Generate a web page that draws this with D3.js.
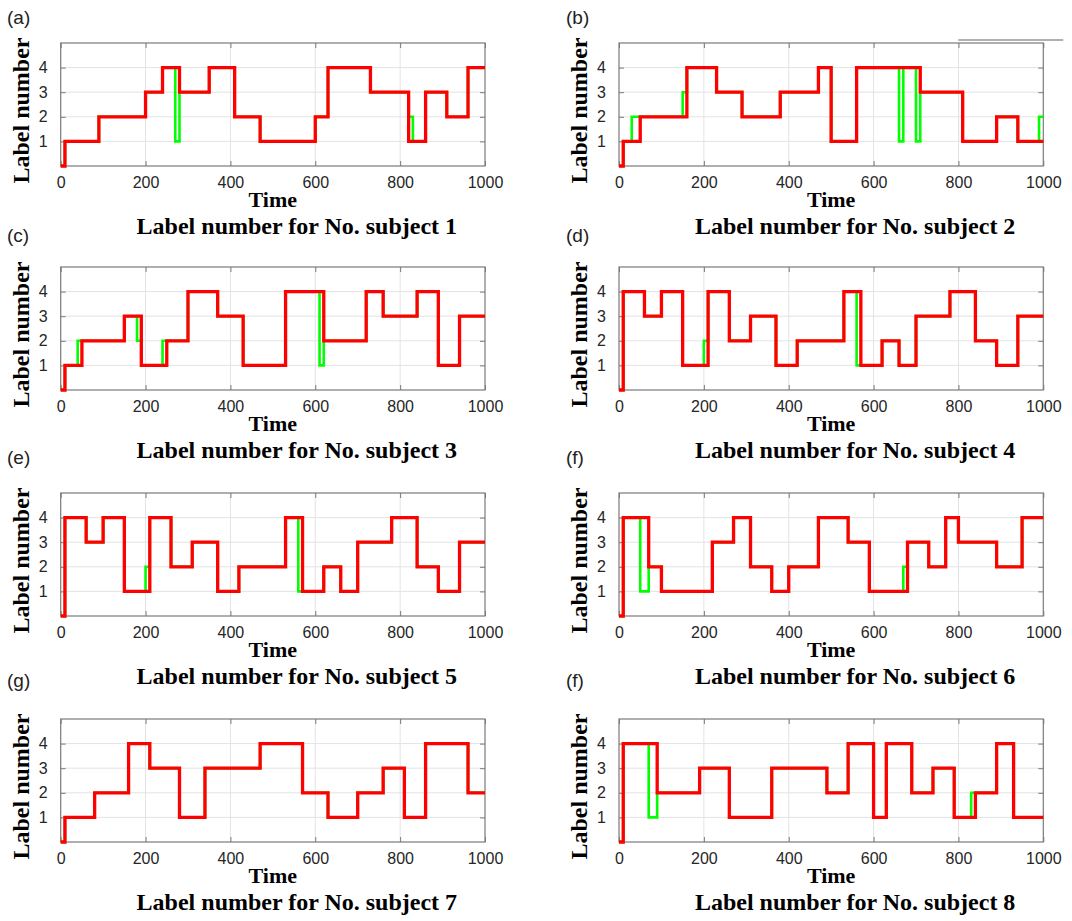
<!DOCTYPE html>
<html>
<head>
	<meta charset="utf-8">
	<script src="https://d3js.org/d3.v7.min.js"></script>
	<title>Label number per subject</title>
	<style>
		body { margin: 0; background: #fff; }
	</style>
</head>
<body>
	<div id="chart"></div>

	<script type="text/javascript">

		// panel letters as printed (the last one repeats "(f)")
		var panelLetters = ["(a)", "(b)", "(c)", "(d)", "(e)", "(f)", "(g)", "(f)"];
		var subjectNumbers = [1, 2, 3, 4, 5, 6, 7, 8];
		var xTickValues = [0, 200, 400, 600, 800, 1000];
		var yTickValues = [1, 2, 3, 4];
		var xDomain = [0, 1000];
		var yDomain = [0, 5];

		// [time, label] change points, each label holds until the next point (or 1000)
		var red1 = [[0,0],[10,1],[90,2],[200,3],[240,4],[280,3],[350,4],[410,2],[470,1],[600,2],[630,4],[730,3],[820,1],[860,3],[910,2],[960,4]];
		var green1 = [[0,0],[10,1],[90,2],[200,3],[240,4],[270,1],[280,3],[350,4],[410,2],[470,1],[600,2],[630,4],[730,3],[820,2],[830,1],[860,3],[910,2],[960,4]];

		var red2 = [[0,0],[10,1],[50,2],[160,4],[230,3],[290,2],[380,3],[470,4],[500,1],[560,4],[710,3],[810,1],[890,2],[940,1]];
		var green2 = [[0,0],[10,1],[30,2],[150,3],[160,4],[230,3],[290,2],[380,3],[470,4],[500,1],[560,4],[660,1],[670,4],[700,1],[710,3],[810,1],[890,2],[940,1],[990,2]];

		var red3 = [[0,0],[10,1],[50,2],[150,3],[190,1],[250,2],[300,4],[370,3],[430,1],[530,4],[620,2],[720,4],[760,3],[840,4],[890,1],[940,3]];
		var green3 = [[0,0],[10,1],[40,2],[150,3],[180,2],[190,1],[240,2],[300,4],[370,3],[430,1],[530,4],[610,1],[620,2],[720,4],[760,3],[840,4],[890,1],[940,3]];

		var red4 = [[0,0],[10,4],[60,3],[100,4],[150,1],[210,4],[260,2],[310,3],[370,1],[420,2],[530,4],[570,1],[620,2],[660,1],[700,3],[780,4],[840,2],[890,1],[940,3]];
		var green4 = [[0,0],[10,4],[60,3],[100,4],[150,1],[200,2],[210,4],[260,2],[310,3],[370,1],[420,2],[530,4],[560,1],[620,2],[660,1],[700,3],[780,4],[840,2],[890,1],[940,3]];

		var red5 = [[0,0],[10,4],[60,3],[100,4],[150,1],[210,4],[260,2],[310,3],[370,1],[420,2],[530,4],[570,1],[620,2],[660,1],[700,3],[780,4],[840,2],[890,1],[940,3]];
		var green5 = [[0,0],[10,4],[60,3],[100,4],[150,1],[200,2],[210,4],[260,2],[310,3],[370,1],[420,2],[530,4],[560,1],[620,2],[660,1],[700,3],[780,4],[840,2],[890,1],[940,3]];

		var red6 = [[0,0],[10,4],[70,2],[100,1],[220,3],[270,4],[310,2],[360,1],[400,2],[470,4],[540,3],[590,1],[680,3],[730,2],[770,4],[800,3],[890,2],[950,4]];
		var green6 = [[0,0],[10,4],[50,1],[70,2],[100,1],[220,3],[270,4],[310,2],[360,1],[400,2],[470,4],[540,3],[590,1],[670,2],[680,3],[730,2],[770,4],[800,3],[890,2],[950,4]];

		var red7 = [[0,0],[10,1],[80,2],[160,4],[210,3],[280,1],[340,3],[470,4],[570,2],[630,1],[700,2],[760,3],[810,1],[860,4],[960,2]];
		var green7 = [[0,0],[10,1],[80,2],[160,4],[210,3],[280,1],[340,3],[470,4],[570,2],[630,1],[700,2],[760,3],[810,1],[860,4],[960,2]];

		var red8 = [[0,0],[10,4],[90,2],[190,3],[260,1],[360,3],[490,2],[540,4],[600,1],[630,4],[690,2],[740,3],[790,1],[840,2],[890,4],[930,1]];
		var green8 = [[0,0],[10,4],[70,1],[90,2],[190,3],[260,1],[360,3],[490,2],[540,4],[600,1],[630,4],[690,2],[740,3],[790,1],[830,2],[890,4],[930,1]];

		var redSeries = [red1, red2, red3, red4, red5, red6, red7, red8];
		var greenSeries = [green1, green2, green3, green4, green5, green6, green7, green8];

		// page layout
		var svgwidth = 1072;
		var svgheight = 921;
		var colLeft = [60.7, 619];
		var boxW = 424.3;
		var rowTop = [43, 267, 493, 719];
		var boxH = 123;
		var letterY = [24, 242, 464, 687];
		var letterX = [7, 566];

		var svg = d3.select("#chart").append("svg")
				.attr("width", svgwidth)
				.attr("height", svgheight)
				.style("background", "#fff");

		var line = function(xScale, yScale){
			return d3.line()
					.x(function(d){ return xScale(d[0]); })
					.y(function(d){ return yScale(d[1]); })
					.curve(d3.curveStepAfter);
		};

		// hold last label until end of the time axis
		var withEnd = function(steps){
			return steps.concat([[xDomain[1], steps[steps.length - 1][1]]]);
		};

		subjectNumbers.forEach(function(num, i){
			var col = i % 2;
			var row = Math.floor(i / 2);
			var left = colLeft[col];
			var top = rowTop[row];

			var xScale = d3.scaleLinear().domain(xDomain).range([left, left + boxW]);
			var yScale = d3.scaleLinear().domain(yDomain).range([top + boxH, top]);

			var g = svg.append("g").attr("class", "panel");

			// grid
			g.append("g")
				.selectAll("line.vgrid")
				.data(xTickValues.slice(1, -1))
				.enter().append("line")
				.attr("x1", function(d){ return xScale(d); })
				.attr("x2", function(d){ return xScale(d); })
				.attr("y1", top)
				.attr("y2", top + boxH)
				.attr("stroke", "#e3e3e3")
				.attr("stroke-width", 1);

			g.append("g")
				.selectAll("line.hgrid")
				.data(yTickValues)
				.enter().append("line")
				.attr("x1", left)
				.attr("x2", left + boxW)
				.attr("y1", function(d){ return yScale(d); })
				.attr("y2", function(d){ return yScale(d); })
				.attr("stroke", "#e3e3e3")
				.attr("stroke-width", 1);

			// axes with inward ticks on all four sides
			var xAxisB = d3.axisBottom(xScale).tickValues(xTickValues).tickSize(-5).tickPadding(11).tickFormat(d3.format("d"));
			var xAxisT = d3.axisTop(xScale).tickValues(xTickValues).tickSize(-5).tickFormat("");
			var yAxisL = d3.axisLeft(yScale).tickValues(yTickValues).tickSize(-5).tickPadding(13).tickFormat(d3.format("d"));
			var yAxisR = d3.axisRight(yScale).tickValues(yTickValues).tickSize(-5).tickFormat("");

			var axes = [
				g.append("g").attr("transform", "translate(0," + (top + boxH) + ")").call(xAxisB),
				g.append("g").attr("transform", "translate(0," + top + ")").call(xAxisT),
				g.append("g").attr("transform", "translate(" + left + ",0)").call(yAxisL),
				g.append("g").attr("transform", "translate(" + (left + boxW) + ",0)").call(yAxisR)
			];
			axes.forEach(function(a){
				a.select(".domain").remove();
				a.selectAll(".tick line").attr("stroke", "#7a7a7a");
				a.selectAll(".tick text")
					.attr("fill", "#262626")
					.style("font-family", "'Liberation Sans', Arial, sans-serif")
					.style("font-size", "16px");
			});

			// box
			g.append("rect")
				.attr("x", left)
				.attr("y", top)
				.attr("width", boxW)
				.attr("height", boxH)
				.attr("fill", "none")
				.attr("stroke", "#7a7a7a")
				.attr("stroke-width", 1.2);

			// green underneath, red on top
			g.append("path")
				.datum(withEnd(greenSeries[i]))
				.attr("d", line(xScale, yScale))
				.attr("fill", "none")
				.attr("stroke", "#00ff00")
				.attr("stroke-width", 2.6);

			g.append("path")
				.datum(withEnd(redSeries[i]))
				.attr("d", line(xScale, yScale))
				.attr("fill", "none")
				.attr("stroke", "#ff0000")
				.attr("stroke-width", 3.3);

			// labels
			g.append("text")
				.attr("transform", "translate(" + (left - 40) + "," + (top + boxH / 2 + 6) + ") rotate(-90)")
				.attr("text-anchor", "middle")
				.attr("dy", "0.35em")
				.style("font-family", "'Liberation Serif', 'Times New Roman', serif")
				.style("font-weight", "bold")
				.style("font-size", "24px")
				.text("Label number");

			g.append("text")
				.attr("x", left + boxW / 2)
				.attr("y", top + 164)
				.attr("text-anchor", "middle")
				.style("font-family", "'Liberation Serif', 'Times New Roman', serif")
				.style("font-weight", "bold")
				.style("font-size", "22px")
				.text("Time");

			g.append("text")
				.attr("x", left + boxW / 2 + 24)
				.attr("y", top + 191)
				.attr("text-anchor", "middle")
				.style("font-family", "'Liberation Serif', 'Times New Roman', serif")
				.style("font-weight", "bold")
				.style("font-size", "24px")
				.text("Label number for No. subject " + num);

			g.append("text")
				.attr("x", letterX[col])
				.attr("y", letterY[row])
				.style("font-family", "'Liberation Sans', Arial, sans-serif")
				.style("font-size", "19px")
				.attr("fill", "#222")
				.text(panelLetters[i]);
		});

		// stray grey rule above panel (b) in the source figure
		svg.append("line")
			.attr("x1", colLeft[1] + boxW - 85)
			.attr("x2", colLeft[1] + boxW + 20)
			.attr("y1", rowTop[0] - 3)
			.attr("y2", rowTop[0] - 3)
			.attr("stroke", "#b0b0b0")
			.attr("stroke-width", 2);

	</script>
</body>
</html>
